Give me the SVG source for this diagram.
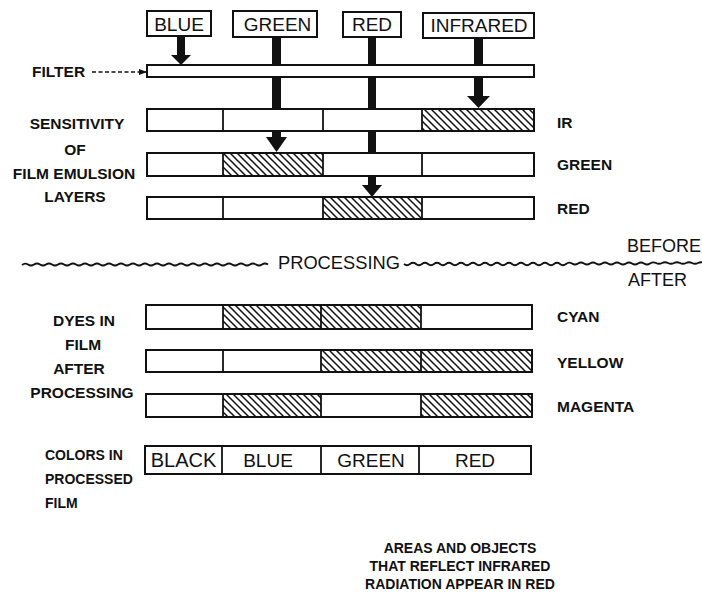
<svg xmlns="http://www.w3.org/2000/svg" width="702" height="596" viewBox="0 0 702 596">
<style>
.lbl{font-family:"Liberation Sans",Arial,sans-serif;font-weight:bold;font-size:15.5px;fill:#111}
.sm{font-size:14px}
.big{font-family:"Liberation Sans",Arial,sans-serif;font-size:19px;fill:#111}
.box{fill:#fff;stroke:#111;stroke-width:2}
.div{stroke:#111;stroke-width:1.8}
.hat{fill:url(#hatch)}
.ar{fill:#111}
.wave{fill:none;stroke:#111;stroke-width:1.8}
</style>
<defs>
<pattern id="hatch" patternUnits="userSpaceOnUse" width="7" height="7">
<rect width="7" height="7" fill="#fff"/>
<path d="M-1,-1 L8,8 M-1,6 L1,8 M6,-1 L8,1" stroke="#111" stroke-width="1.5"/>
</pattern>
<marker id="dhead" markerWidth="8" markerHeight="8" refX="7" refY="4" orient="auto" markerUnits="userSpaceOnUse">
<path d="M0,1 L8,4 L0,7 Z" fill="#111"/>
</marker>
</defs>
<rect width="702" height="596" fill="#fff"/>

<g id="connectors">
<rect class="ar" x="177" y="36" width="8" height="20"/>
<polygon class="ar" points="171,55 191,55 181,65"/>
<rect class="ar" x="272" y="37" width="9" height="28"/>
<rect class="ar" x="272" y="77" width="9" height="32"/>
<rect class="ar" x="272" y="131" width="9" height="8"/>
<polygon class="ar" points="266,137 287,137 276.5,152"/>
<rect class="ar" x="368" y="37" width="8" height="28"/>
<rect class="ar" x="368" y="77" width="8" height="32"/>
<rect class="ar" x="368" y="131" width="8" height="22"/>
<rect class="ar" x="368" y="176" width="8" height="10"/>
<polygon class="ar" points="362,185 382,185 372,197"/>
<rect class="ar" x="474" y="38" width="9" height="27"/>
<rect class="ar" x="474" y="77" width="9" height="20"/>
<polygon class="ar" points="467,96 490,96 478.5,108"/>
<line x1="92" y1="72" x2="146" y2="72" stroke="#111" stroke-width="1.3" stroke-dasharray="4 2.5" marker-end="url(#dhead)"/>
</g>

<g id="src-blue"><rect class="box" x="147" y="11" width="64" height="25"/><text class="big" x="179" y="31" text-anchor="middle">BLUE</text></g>
<g id="src-green"><rect class="box" x="233" y="11" width="84" height="26"/><text class="big" x="277.5" y="31" text-anchor="middle">GREEN</text></g>
<g id="src-red"><rect class="box" x="343" y="12" width="58" height="25"/><text class="big" x="372" y="31" text-anchor="middle">RED</text></g>
<g id="src-infrared"><rect class="box" x="423" y="13" width="111" height="25"/><text class="big" x="479" y="32" text-anchor="middle">INFRARED</text></g>

<g id="filter"><rect class="box" x="147" y="65" width="387" height="12"/><text class="lbl" x="32" y="77">FILTER</text></g>

<g id="layer-ir">
<rect class="hat" x="422" y="109" width="112" height="22"/>
<rect class="box" x="147" y="109" width="387" height="22" style="fill:none"/>
<line class="div" x1="223" y1="109" x2="223" y2="131"/><line class="div" x1="323" y1="109" x2="323" y2="131"/><line class="div" x1="422" y1="109" x2="422" y2="131"/>
<text class="lbl" x="557" y="128">IR</text>
</g>
<g id="layer-green">
<rect class="hat" x="223" y="153" width="100" height="23"/>
<rect class="box" x="147" y="153" width="387" height="23" style="fill:none"/>
<line class="div" x1="223" y1="153" x2="223" y2="176"/><line class="div" x1="323" y1="153" x2="323" y2="176"/><line class="div" x1="422" y1="153" x2="422" y2="176"/>
<text class="lbl" x="557" y="170">GREEN</text>
</g>
<g id="layer-red">
<rect class="hat" x="323" y="197" width="99" height="22"/>
<rect class="box" x="147" y="197" width="387" height="22" style="fill:none"/>
<line class="div" x1="223" y1="197" x2="223" y2="219"/><line class="div" x1="323" y1="197" x2="323" y2="219"/><line class="div" x1="422" y1="197" x2="422" y2="219"/>
<text class="lbl" x="557" y="214">RED</text>
</g>

<g id="label-sensitivity">
<text class="lbl" x="77" y="129" text-anchor="middle">SENSITIVITY</text>
<text class="lbl" x="75" y="155" text-anchor="middle">OF</text>
<text class="lbl" x="74" y="179" text-anchor="middle">FILM EMULSION</text>
<text class="lbl" x="75" y="202" text-anchor="middle">LAYERS</text>
</g>

<g id="processing-divider">
<path class="wave" d="M22,265 q3,-2.5 6,-0.5 t6,0 t6,0 t6,0 t6,0 t6,0 t6,0 t6,0 t6,0 t6,0 t6,0 t6,0 t6,0 t6,0 t6,0 t6,0 t6,0 t6,0 t6,0 t6,0 t6,0 t6,0 t6,0 t6,0 t6,0 t6,0 t6,0 t6,0 t6,0 t6,0 t6,0 t6,0 t6,0 t6,0 t6,0 t6,0 t6,0 t6,0 t6,0 t6,0 t6,0"/>
<text class="big" x="278" y="269" style="font-size:18.3px">PROCESSING</text>
<path class="wave" d="M404,264 q3,2.5 6,0 t6,0 t6,0 t6,0 t6,0 t6,0 t6,0 t6,0 t6,0 t6,0 t6,0 t6,0 t6,0 t6,0 t6,0 t6,0 t6,0 t6,0 t6,0 t6,0 t6,0 t6,0 t6,0 t6,0 t6,0 t6,0 t6,0 t6,-0.5 t6,0 t6,0 t6,0 t6,0 t6,0 t6,0 t6,0 t6,0 t6,0 t6,0 t6,0 t6,0 t6,0 t6,-0.5 t6,0 t6,0 t6,0 t6,0 t6,0 t6,0 t6,0 t6,0"/>
<text class="big" x="627" y="252" style="font-size:18px">BEFORE</text>
<text class="big" x="628" y="286" style="font-size:18px">AFTER</text>
</g>

<g id="dye-cyan">
<rect class="hat" x="223" y="305" width="198" height="24"/>
<rect class="box" x="146" y="305" width="386" height="24" style="fill:none"/>
<line class="div" x1="223" y1="305" x2="223" y2="329"/><line class="div" x1="321" y1="305" x2="321" y2="329"/><line class="div" x1="421" y1="305" x2="421" y2="329"/>
<text class="lbl" x="557" y="322">CYAN</text>
</g>
<g id="dye-yellow">
<rect class="hat" x="321" y="350" width="211" height="22"/>
<rect class="box" x="146" y="350" width="386" height="22" style="fill:none"/>
<line class="div" x1="223" y1="350" x2="223" y2="372"/><line class="div" x1="321" y1="350" x2="321" y2="372"/><line class="div" x1="421" y1="350" x2="421" y2="372"/>
<text class="lbl" x="557" y="368">YELLOW</text>
</g>
<g id="dye-magenta">
<rect class="hat" x="223" y="394" width="98" height="23"/>
<rect class="hat" x="421" y="394" width="111" height="23"/>
<rect class="box" x="146" y="394" width="386" height="23" style="fill:none"/>
<line class="div" x1="223" y1="394" x2="223" y2="417"/><line class="div" x1="321" y1="394" x2="321" y2="417"/><line class="div" x1="421" y1="394" x2="421" y2="417"/>
<text class="lbl" x="557" y="412">MAGENTA</text>
</g>

<g id="label-dyes">
<text class="lbl" x="84" y="326" text-anchor="middle">DYES IN</text>
<text class="lbl" x="83" y="350" text-anchor="middle">FILM</text>
<text class="lbl" x="79" y="374" text-anchor="middle">AFTER</text>
<text class="lbl" x="82" y="398" text-anchor="middle">PROCESSING</text>
</g>

<g id="colors-bar">
<rect class="box" x="145" y="446" width="386" height="28"/>
<line class="div" x1="222" y1="446" x2="222" y2="474"/><line class="div" x1="321" y1="446" x2="321" y2="474"/><line class="div" x1="419" y1="446" x2="419" y2="474"/>
<text class="big" x="183.5" y="467" text-anchor="middle" style="font-size:20px">BLACK</text>
<text class="big" x="268" y="467" text-anchor="middle">BLUE</text>
<text class="big" x="371" y="467" text-anchor="middle">GREEN</text>
<text class="big" x="475" y="467" text-anchor="middle">RED</text>
</g>

<g id="label-colors">
<text class="lbl sm" x="45" y="460">COLORS IN</text>
<text class="lbl sm" x="45" y="484">PROCESSED</text>
<text class="lbl sm" x="45" y="508">FILM</text>
</g>

<g id="note">
<text class="lbl sm" x="460" y="553" text-anchor="middle">AREAS AND OBJECTS</text>
<text class="lbl sm" x="460" y="571" text-anchor="middle">THAT REFLECT INFRARED</text>
<text class="lbl sm" x="460" y="589" text-anchor="middle">RADIATION APPEAR IN RED</text>
</g>
</svg>
